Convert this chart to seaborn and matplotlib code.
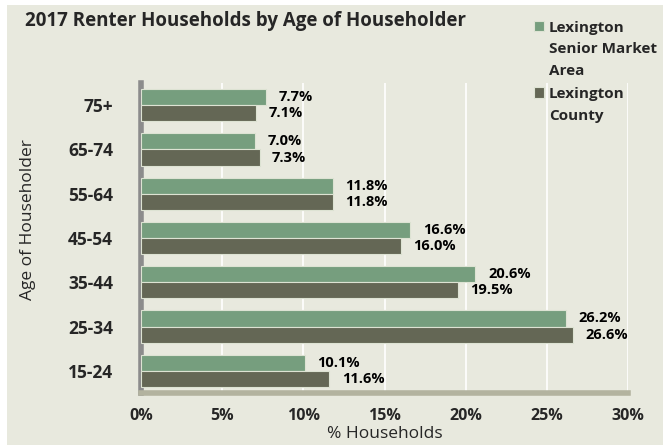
import pandas as pd
import numpy as np
import matplotlib.pyplot as plt
import seaborn as sns
from matplotlib.patches import Rectangle

# ==========================================
# Data
# ==========================================

age_groups = ['75+', '65-74', '55-64', '45-54', '35-44', '25-34', '15-24']
senior_market = [7.7, 7.0, 11.8, 16.6, 20.6, 26.2, 10.1]
county = [7.1, 7.3, 11.8, 16.0, 19.5, 26.6, 11.6]
series_names = ['Lexington\nSenior Market\nArea', 'Lexington\nCounty']
x_ticks = [0, 5, 10, 15, 20, 25, 30]

df = pd.DataFrame({
    'age': age_groups * 2,
    'pct': senior_market + county,
    'series': [series_names[0]] * len(age_groups) + [series_names[1]] * len(age_groups),
})

# ==========================================
# Style
# ==========================================

bg = '#E8E9DE'
sns.set_style('white')
plt.rcParams['font.family'] = ['Open Sans', 'DejaVu Sans']

fig = plt.figure(figsize=(6.63, 4.45), dpi=100)
fig.patch.set_facecolor('white')
fig.patches.append(Rectangle((7 / 663, 0), 1, 1 - 5 / 445, transform=fig.transFigure,
                             facecolor=bg, edgecolor='none', zorder=-10))

ax = fig.add_axes([141 / 663, 52 / 445, 487 / 663, 310 / 445])
ax.set_facecolor(bg)

sns.barplot(
    data=df, y='age', x='pct', hue='series', orient='h',
    order=age_groups, hue_order=series_names,
    palette=['#6FA57A', '#666A52'], width=0.73,
    edgecolor='#DDE3D3', linewidth=0.8, ax=ax, zorder=3,
)

for cont in ax.containers:
    ax.bar_label(cont, fmt='%.1f%%', padding=9, fontsize=10.5, fontweight='bold', color='black')

# ==========================================
# Axes
# ==========================================

ax.set_xlim(0, 30)
ax.set_ylim(len(age_groups) - 0.5, -0.5)
ax.set_xticks(x_ticks)
ax.set_xticklabels([f'{t}%' for t in x_ticks], fontsize=11.5, fontweight='bold')
ax.set_yticklabels(age_groups, fontsize=12.5, fontweight='bold')
ax.tick_params(axis='y', length=0, pad=20)
ax.tick_params(axis='x', length=5, width=3, color='#B3B39F', pad=6, direction='out')
ax.set_yticks(np.arange(-0.5, len(age_groups)), minor=True)
ax.tick_params(axis='y', which='minor', length=5, width=3, color='#8C8C8C', direction='out')

ax.grid(axis='x', color='white', linewidth=1.2, zorder=0)
for side in ['top', 'right']:
    ax.spines[side].set_visible(False)
ax.spines['left'].set_color('#8C8C8C')
ax.spines['left'].set_linewidth(4)
ax.spines['bottom'].set_color('#B3B39F')
ax.spines['bottom'].set_linewidth(4)

ax.set_xlabel('% Households', fontsize=12.5, labelpad=1)
ax.set_ylabel('Age of Householder', fontsize=12.5)
ax.yaxis.set_label_coords(-0.215, 0.56)

fig.text(25 / 663, 1 - 21 / 445, '2017 Renter Households by Age of Householder',
         fontsize=13.5, fontweight='bold', va='center')

handles, labels = ax.get_legend_handles_labels()
ax.legend_.remove()
leg = fig.legend(handles, labels, loc='upper left', bbox_to_anchor=(526 / 663, 1 - 13 / 445),
                 frameon=False, prop={'weight': 'bold', 'size': 11},
                 handlelength=0.7, handleheight=0.7, handletextpad=0.3, labelspacing=0.6,
                 borderpad=0)
for t in leg.get_texts():
    t.set_linespacing(1.7)
# put the colour square next to the first line of each label
for col in leg._legend_handle_box.get_children():
    for row in col.get_children():
        row.align = 'top'

plt.savefig('out.png', dpi=100, facecolor=fig.get_facecolor())
